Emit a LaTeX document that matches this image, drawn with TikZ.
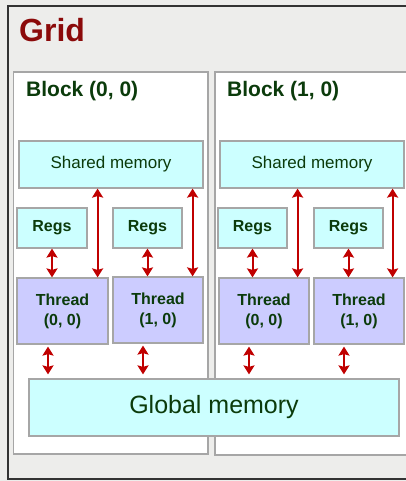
\documentclass[tikz,border=0pt]{standalone}
\usepackage{fontspec}
\setmainfont{Liberation Sans}
\usetikzlibrary{arrows.meta,calc}
\definecolor{bg}{HTML}{EDEDEB}
\definecolor{gridred}{HTML}{8B0A0A}
\definecolor{txtgreen}{HTML}{0B3B0B}
\definecolor{shmcol}{HTML}{CCFFFF}
\definecolor{thrcol}{HTML}{CCCCFF}
\definecolor{bordcol}{HTML}{A6A6A6}
\definecolor{arrcol}{HTML}{C00000}
\tikzset{
  blockbox/.style={draw=bordcol, line width=1.5pt, fill=white, inner sep=0pt},
  shmbox/.style={draw=bordcol, line width=1.2pt, fill=shmcol, inner sep=0pt, text=txtgreen, font=\fontsize{17}{20}\selectfont},
  regbox/.style={draw=bordcol, line width=1.2pt, fill=shmcol, inner sep=0pt, text=txtgreen, font=\fontsize{16}{18}\selectfont\bfseries},
  thrbox/.style={draw=bordcol, line width=1.2pt, fill=thrcol, inner sep=0pt, text=txtgreen, align=center, font=\fontsize{16}{20}\selectfont\bfseries},
  arr/.style={draw=arrcol, line width=2pt, {Stealth[length=9pt,width=11pt,inset=1.5pt]}-{Stealth[length=9pt,width=11pt,inset=1.5pt]}},
  blocktitle/.style={anchor=base west, inner sep=0pt, text=txtgreen, font=\fontsize{21}{24}\selectfont\bfseries}
}
\begin{document}
\begin{tikzpicture}[x=1pt,y=-1pt]
\useasboundingbox (0,0) rectangle (406,481);
\fill[bg] (0,0) rectangle (406,481);
% grid frame
\draw[line width=1.2pt, draw=black!80] (430,6) -- (8,6) -- (8,479) -- (430,479);
\node[anchor=base west, inner sep=0pt, text=gridred, font=\fontsize{32}{36}\selectfont\bfseries] (gt) at (19,41.5) {Grid};
% blocks
\node[blockbox, minimum width=194.5pt, minimum height=382pt] (b0) at (110.75,263) {};
\node[blockbox, minimum width=210pt, minimum height=383pt] (b1) at (320,263.5) {};
\node[blocktitle] (b0t) at (26,97) {Block (0, 0)};
\node[blocktitle] (b1t) at (227,97) {Block (1, 0)};
% shared memory
\node[shmbox, minimum width=184pt, minimum height=47pt] (s0) at (111,164.5) {Shared memory};
\node[shmbox, minimum width=184pt, minimum height=47pt] (s1) at (312,164.5) {Shared memory};
% regs
\node[regbox, minimum width=70pt, minimum height=40pt] (r00) at (52,228) {Regs};
\node[regbox, minimum width=69pt, minimum height=40pt] (r01) at (147.5,228) {Regs};
\node[regbox, minimum width=69pt, minimum height=40pt] (r10) at (252.5,228) {Regs};
\node[regbox, minimum width=69pt, minimum height=40pt] (r11) at (348.5,228) {Regs};
% threads
\node[thrbox, minimum width=91pt, minimum height=66pt] (t00) at (62.5,311) {Thread\\(0, 0)};
\node[thrbox, minimum width=90pt, minimum height=66pt] (t01) at (158,310) {Thread\\(1, 0)};
\node[thrbox, minimum width=90pt, minimum height=66pt] (t10) at (264,311) {Thread\\(0, 0)};
\node[thrbox, minimum width=90pt, minimum height=66pt] (t11) at (359,311) {Thread\\(1, 0)};
% global memory
\node[draw=bordcol, line width=1.2pt, fill=shmcol, inner sep=0pt, text=txtgreen, font=\fontsize{25}{30}\selectfont, minimum width=370pt, minimum height=57pt] (g) at (214,407.5) {Global memory};
% regs <-> thread
\foreach \r/\t in {r00/t00,r01/t01,r10/t10,r11/t11}{
  \draw[arr] (\r.south) -- (\r.south |- \t.north);
}
% shared <-> thread
\coordinate (a00) at ([xshift=-11pt]t00.north east);
\coordinate (a01) at ([xshift=-11pt]t01.north east);
\coordinate (a10) at ([xshift=-12pt]t10.north east);
\coordinate (a11) at ([xshift=-12pt]t11.north east);
\draw[arr] (a00) -- (a00 |- s0.south);
\draw[arr] (a01) -- (a01 |- s0.south);
\draw[arr] (a10) -- (a10 |- s1.south);
\draw[arr] (a11) -- (a11 |- s1.south);
% thread <-> global
\coordinate (c00) at ([xshift=-14.5pt]t00.south);
\coordinate (c01) at ([xshift=-15pt]t01.south);
\coordinate (c10) at ([xshift=-15pt]t10.south);
\coordinate (c11) at ([xshift=-15pt]t11.south);
\foreach \c in {c00,c01,c10,c11}{
  \draw[arr, shorten <=2pt, shorten >=4pt] (\c) -- (\c |- g.north);
}
\end{tikzpicture}
\end{document}
